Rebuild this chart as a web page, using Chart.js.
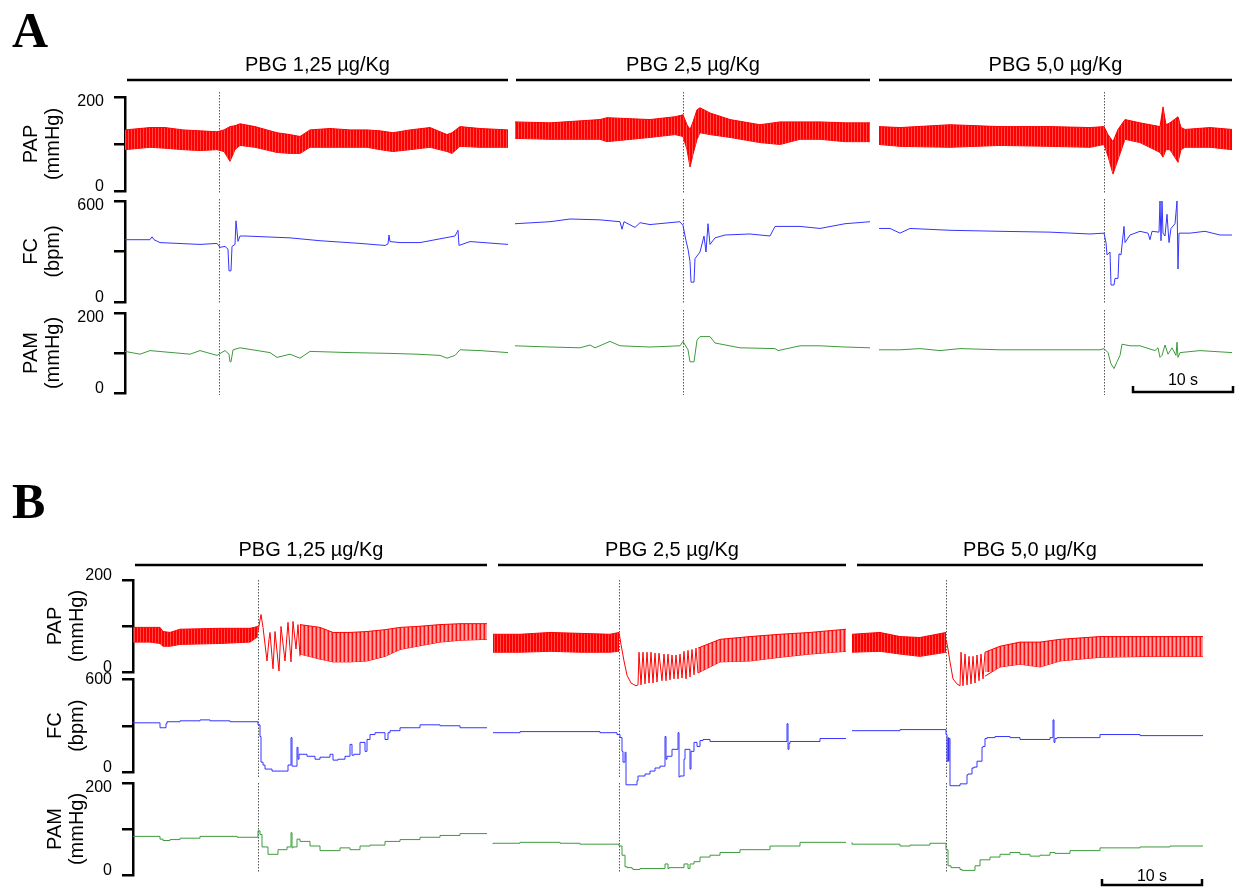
<!DOCTYPE html>
<html>
<head>
<meta charset="utf-8">
<script src="https://cdn.jsdelivr.net/npm/chart.js@4.4.0/dist/chart.umd.min.js"></script>
<style>
  body { margin: 0; background: #fff; width: 1239px; height: 894px; position: relative; overflow: hidden; }
  canvas { position: absolute; left: 0; }
  .letter { position: absolute; left: 12px; font: bold 50px "Liberation Serif", "Times New Roman", serif; line-height: 50px; color: #000; }
</style>
</head>
<body>
<div class="letter" style="top:5px">A</div>
<div class="letter" style="top:476px">B</div>
<canvas id="aPap"></canvas>
<canvas id="aFc"></canvas>
<canvas id="aPam"></canvas>
<canvas id="bPap"></canvas>
<canvas id="bFc"></canvas>
<canvas id="bPam"></canvas>
<script>
// doses and event times (s)
const doses = ['PBG 1,25 µg/Kg', 'PBG 2,5 µg/Kg', 'PBG 5,0 µg/Kg'];
const aInject = [9.4, 55.8, 97.9];
const bInject = [12.5, 48.6, 81.3];
const aSpans = [[0.2, 38.3], [39.1, 74.5], [75.4, 110.7]];
const bSpans = [[0.2, 35.4], [36.5, 71.3], [72.4, 107]];

// ---- panel A, column 1 ----
const a1PapT = [0,1.5,2.5,4,5.8,7.5,9.2,9.9,10.5,11,11.5,13,15.2,16.5,17.5,18.5,20.5,22.5,24.2,25.5,26.8,28.5,30.5,32.2,32.7,33.5,35.5,38.3];
const a1PapHi = [130,133,135,135,130,128,126,130,137,139,143,137,124,120,116,130,133,130,130,128,124,130,135,120,124,137,133,130];
const a1PapLo = [88,91,93,91,88,86,88,84,63,88,97,93,82,80,80,93,93,93,93,88,84,88,93,84,80,95,93,93];
const a1FcT = [0,2.5,2.7,2.9,3.5,7.5,9.2,9.5,10,10.3,10.4,10.6,10.7,11,11.1,11.3,11.5,12,16.5,19.5,23.5,26,26.3,26.4,26.5,27.5,29.5,33,33.3,33.4,34.5,38.3];
const a1Fc = [370,370,387,370,353,342,348,325,330,314,185,185,330,342,482,360,392,392,381,364,348,336,345,398,359,353,353,392,426,336,359,342];
const a1PamT = [0,1.5,2.5,6.5,7.5,9.2,10,10.4,10.5,10.6,10.8,11.5,14.5,15.2,16.5,17.5,18.5,22.5,26.5,29.2,31.5,32.2,33,33.5,35.5,38.3];
const a1Pam = [104,97,106,97,106,94,106,97,78,78,108,113,101,89,97,87,104,101,99,97,94,87,94,108,106,101];

// ---- panel A, column 2 ----
const a2PapT = [39,42.5,47.5,48.2,52.5,55,55.8,56.2,56.5,56.8,57.2,57.5,58.5,60.5,63.5,65.5,67.5,69.5,72,74.5];
const a2PapHi = [147,145,152,156,152,158,162,141,131,147,173,177,166,152,141,147,147,147,145,145];
const a2PapLo = [112,110,110,105,114,120,116,88,51,78,110,124,120,114,103,99,110,110,105,105];
const a2FcT = [39,42.5,44.5,47.5,49.5,49.7,49.9,51,51.5,52.5,55.5,55.8,56.1,56.3,56.5,56.6,56.9,57,57.5,57.9,58.1,58.3,58.5,59,60,62.5,64.5,65,67.5,69.5,72,74.5];
const a2Fc = [465,477,493,488,477,432,477,443,471,460,477,454,364,314,241,118,118,258,297,392,297,465,342,381,398,404,392,449,449,437,465,477];
const a2PamT = [39,42.5,45.5,46.5,47,48.5,49.5,52.5,55.5,55.8,56.3,56.5,56.9,57.2,57.5,58.5,59,61.5,65,65.3,67.5,69.5,72,74.5];
const a2Pam = [118,115,113,120,113,129,118,115,118,129,108,78,78,132,141,141,125,113,111,106,118,118,115,113];

// ---- panel A, column 3 ----
const a3PapT = [75.4,77.5,82.5,87.5,92.5,96.5,97.9,98.3,98.8,99.3,100,101.5,103.5,103.8,104.1,104.5,105.3,105.6,106,108.5,110.7];
const a3PapHi = [137,135,141,137,137,135,137,120,105,131,152,145,137,179,141,145,158,135,131,135,131];
const a3PapLo = [99,95,93,97,95,93,99,74,36,67,110,103,82,72,88,88,61,88,93,93,88];
const a3FcT = [75.4,76.5,77.5,78.5,82.5,87.5,92.5,96.5,97.9,98.1,98.2,98.5,98.6,98.9,99,99.3,99.4,99.6,99.9,100,100.5,101.5,102.3,102.5,102.7,103.4,103.5,103.6,103.7,103.8,104,104.2,104.4,104.6,105,105.2,105.3,105.4,106.5,108,109.5,110.7];
const a3Fc = [437,437,409,437,426,420,415,404,409,353,280,297,101,101,140,140,286,280,449,353,398,420,409,370,420,415,600,364,600,409,392,521,353,437,465,600,196,409,409,420,398,398];
const a3PamT = [75.4,77.5,79.5,81.5,83.5,87.5,92.5,97.5,97.9,98.3,98.6,98.9,99.2,99.5,99.7,100.5,101.5,103,103.3,103.5,103.7,104,104.3,104.7,105.1,105.2,105.3,105.5,107.5,110.7];
const a3Pam = [108,108,111,106,111,108,108,108,111,101,73,61,78,94,122,118,118,106,113,89,94,120,97,113,94,127,89,101,106,101];

// ---- panel B, column 1 ----
const b1PapT = [0,1.7,2.7,3,3.7,4.7,8.7,11.7,12.5];
const b1PapHi = [97,97,97,88,86,93,95,95,99];
const b1PapLo = [65,65,62,56,56,60,62,65,77];
const b1PulseT = [12.5,12.8,13,13.4,13.6,13.7,14,14.2,14.6,14.8,15.2,15.5,15.8,16,16.3,16.5,16.7];
const b1Pulse = [88,125,97,24,71,86,7,88,2,99,24,108,22,110,50,103,34];
const b1PapT2 = [16.7,18.7,20,21.7,23.4,25.2,26.7,28.4,30.7,32.7,35.4];
const b1PapHi2 = [103,97,86,86,88,92,97,99,103,105,105];
const b1PapLo2 = [39,28,22,22,24,34,49,56,65,69,71];
const b1FcT = [0,2.7,3,3.3,3.4,4.7,6.7,7.7,9.7,12.5,12.7,12.8,13,13.2,13.9,14.7,15.5,15.6,15.8,15.9,16,16.4,16.5,16.6,17.4,18.2,18.7,19.7,20,20.5,21.2,21.7,21.9,22.1,22.7,23.2,23.4,23.7,24.2,25.2,25.5,25.7,26.7,27.7,28.7,30.7,32.7,35.4];
const b1Fc = [326,319,287,287,313,326,332,338,332,326,306,230,64,45,19,6,6,45,45,223,38,38,160,83,115,102,83,96,115,77,83,102,179,109,115,192,134,211,243,255,211,255,268,287,287,306,300,287];
const b1PamT = [0,2.7,3,3.7,4.7,6.7,10.4,12.5,12.7,12.9,13.1,13.5,13.7,14.5,14.7,15.4,15.7,15.8,15.9,16,16.4,16.5,16.7,17.7,18.7,19.7,20.7,21.7,22.7,23.7,25.2,26.7,28.7,30.7,32.7,35.4];
const b1Pam = [84,84,78,75,77,80,84,82,96,88,61,61,45,45,55,55,61,61,92,59,61,78,78,73,63,53,53,59,55,63,65,73,77,82,86,90];

// ---- panel B, column 2 ----
const b2PapT = [36,38.7,41.7,44.7,47.7,48.6];
const b2PapHi = [82,82,86,84,82,86];
const b2PapLo = [43,43,45,43,43,45];
const b2PulseT = [48.6,48.8,49.1,49.4,49.8,50.3,50.5,50.6,50.8,51,51.2,51.4,51.6,51.8,52,52.2,52.4,52.6,52.9,53.1,53.3,53.5,53.7,53.9,54.1,54.3,54.5,54.7,54.9,55.1,55.3,55.5,55.7,55.9,56.1,56.3,56.5];
const b2Pulse = [86,60,24,-7,-24,-30,-28,43,-28,43,-26,43,-24,43,-24,41,-22,41,-19,39,-19,39,-17,37,-15,37,-15,39,-13,45,-15,47,-11,49,-6,52,-2];
const b2PapT2 = [56.5,58.7,61.7,64.7,67.7,71.3];
const b2PapHi2 = [52,71,77,82,86,93];
const b2PapLo2 = [-2,22,24,32,39,45];
const b2FcT = [36,38.7,42.7,46.7,48.4,48.7,48.9,49,49.1,49.2,49.3,49.4,50.4,50.5,51.2,51.7,52.2,52.7,53.2,53.3,53.4,53.9,54.2,54.5,54.6,54.7,55.1,55.2,55.7,55.8,56.1,56.4,56.7,57,57.7,58.7,61.7,65.4,65.5,65.6,65.7,66.7,68.7,71.3];
const b2Fc = [255,255,262,262,255,243,223,134,64,64,128,-83,-83,-57,-26,-13,6,26,38,230,83,102,147,147,255,-32,-26,83,147,19,134,192,166,204,211,198,198,198,313,147,185,198,198,217];
const b2PamT = [36,38.7,42.7,44.7,47.7,48.6,48.9,49.2,49.4,49.9,50,50.7,51.7,53.2,53.3,53.5,53.6,54.2,55.1,55.2,55.5,55.7,56.1,56.7,57.7,58.7,60.7,63.7,66.7,71.3];
const b2Pam = [67,69,71,69,67,67,63,43,18,16,14,12,14,14,24,24,14,16,16,24,24,14,24,29,39,43,49,55,63,71];

// ---- panel B, column 3 ----
const b3PapT = [71.9,74.7,76.7,78.7,81.3];
const b3PapHi = [82,86,77,75,86];
const b3PapLo = [43,45,39,34,43];
const b3PulseT = [81.3,81.5,81.7,82,82.4,82.7,82.8,83,83.2,83.4,83.6,83.8,84,84.2,84.4,84.6,84.8,85,85.2];
const b3Pulse = [71,50,22,-15,-26,-30,43,-30,39,-28,34,-26,34,-24,37,-19,39,-15,43];
const b3PapT2 = [85.2,86.7,88.7,90.7,92.7,96.7,101.7,107];
const b3PapHi2 = [43,56,65,65,71,77,77,77];
const b3PapLo2 = [-9,11,17,11,24,32,34,34];
const b3FcT = [71.9,74.7,76.7,78.7,81.3,81.4,81.5,81.55,81.6,81.7,81.8,82.7,82.8,83.4,83.5,83.9,84.1,84.4,84.7,84.9,85,85.2,85.4,86.2,87.7,88.7,90.7,91.7,92,92.1,92.2,92.4,96.7,100.7,103.7,107];
const b3Fc = [268,268,268,275,275,243,70,223,70,217,-89,-89,-77,-77,-19,-13,26,32,70,70,160,166,217,223,230,223,211,211,223,338,192,217,223,243,236,236];
const b3PamT = [71.9,74.7,76.7,77.7,79.7,81.3,81.5,81.8,82.7,82.9,83.7,84.2,84.7,85.7,86.7,87.7,88.7,89.7,90.7,91.7,92.2,93.7,96.7,100.7,103.7,107];
const b3Pam = [71,67,67,63,65,69,55,20,16,12,10,10,20,33,39,45,49,45,41,43,49,47,53,59,61,63];

const papRed = '#ff0000';
const fcBlue = '#3434ff';
const pamGreen = '#3d9a3d';
const fontFamily = '"Liberation Sans", Arial, Helvetica, sans-serif';

// vertical stripes, so the pressure band reads like packed pulse waves
function stripes(cols) {
  const c = document.createElement('canvas');
  c.width = cols.length;
  c.height = 1;
  const g = c.getContext('2d');
  cols.forEach((col, i) => { g.fillStyle = col; g.fillRect(i, 0, 1, 1); });
  return g.createPattern(c, 'repeat');
}

function pts(t, v) {
  return t.map((x, i) => ({ x: x, y: v[i] }));
}

function trace(t, v, color, extra) {
  return Object.assign({
    data: pts(t, v), borderColor: color, borderWidth: 1, pointRadius: 0,
    fill: false, clip: false, tension: 0
  }, extra || {});
}

// systolic / diastolic envelope filled in between
function band(t, hi, lo, fillStyle) {
  return [
    trace(t, hi, papRed, { fill: '+1', backgroundColor: fillStyle }),
    trace(t, lo, papRed)
  ];
}

// dotted injection lines, dose headers and the 10 s bar
function marks(m) {
  return {
    id: 'marks',
    beforeDatasetsDraw(chart) {
      const { ctx, chartArea: a, scales: { x } } = chart;
      ctx.save();
      ctx.strokeStyle = '#555';
      ctx.lineWidth = 1;
      ctx.setLineDash([1.5, 1.5]);
      m.inject.forEach(t => {
        const px = Math.round(x.getPixelForValue(t)) + 0.5;
        ctx.beginPath();
        ctx.moveTo(px, a.top - m.ext[0]);
        ctx.lineTo(px, a.bottom + m.ext[1]);
        ctx.stroke();
      });
      ctx.restore();
    },
    afterDraw(chart) {
      const { ctx, chartArea: a, scales: { x } } = chart;
      ctx.save();
      ctx.strokeStyle = '#000';
      ctx.fillStyle = '#000';
      ctx.lineWidth = 2.5;
      ctx.textAlign = 'center';
      ctx.textBaseline = 'middle';
      if (m.spans) {
        ctx.font = '20px ' + fontFamily;
        m.spans.forEach((s, i) => {
          const x0 = x.getPixelForValue(s[0]);
          const x1 = x.getPixelForValue(s[1]);
          const y = a.top - m.barGap;
          ctx.beginPath();
          ctx.moveTo(x0, y);
          ctx.lineTo(x1, y);
          ctx.stroke();
          ctx.fillText(doses[i], (x0 + x1) / 2, y - 15);
        });
      }
      if (m.scaleBar) {
        const sb = m.scaleBar;
        const x0 = x.getPixelForValue(sb.t0);
        const x1 = x.getPixelForValue(sb.t1);
        const y = a.bottom + sb.dy;
        ctx.beginPath();
        ctx.moveTo(x0, y - 6);
        ctx.lineTo(x0, y);
        ctx.lineTo(x1, y);
        ctx.lineTo(x1, y - 6);
        ctx.stroke();
        ctx.font = '16px ' + fontFamily;
        ctx.fillText('10 s', (x0 + x1) / 2, y - sb.gap);
      }
      ctx.restore();
    }
  };
}

function makeRow(panel, row) {
  const canvas = document.getElementById(row.id);
  canvas.width = 1239;
  canvas.height = row.padTop + (row.bottom - row.top) + row.padBottom;
  canvas.style.top = (row.top - row.padTop) + 'px';
  const max = row.range[1];
  new Chart(canvas, {
    type: 'line',
    data: { datasets: row.datasets },
    options: {
      responsive: false,
      animation: false,
      events: [],
      layout: { padding: { left: 0, right: 1239 - panel.right, top: row.padTop, bottom: row.padBottom } },
      plugins: { legend: { display: false }, tooltip: { enabled: false } },
      scales: {
        x: { type: 'linear', display: false, min: 0, max: panel.xMax },
        y: {
          min: row.range[0],
          max: max,
          afterFit: s => { s.width = panel.axisX; },
          ticks: {
            stepSize: max / 2,
            color: '#000',
            padding: 10,
            font: { family: fontFamily, size: 16, lineHeight: '9px' },
            callback: v => {
              if (v === max) {
                if (row.topLab === 'down') return ['', String(v)];
                if (row.topLab === 'up') return [String(v), ''];
                return String(v);
              }
              if (v === 0) return ['0', ''];
              return '';
            }
          },
          grid: { drawOnChartArea: false, drawTicks: true, tickLength: 11, color: '#000', lineWidth: 2.5 },
          border: { display: true, color: '#000', width: 2.5 },
          title: {
            display: true, text: row.label, color: '#000',
            font: { family: fontFamily, size: 20, lineHeight: 1.1 },
            padding: { top: panel.titlePad, bottom: 0 }
          }
        }
      }
    },
    plugins: [marks({ inject: panel.inject, ext: row.ext, spans: row.spans, barGap: panel.barGap, scaleBar: row.scaleBar })]
  });
}

const dense = stripes(['#ff0000', '#ff0000', '#ff4a4a']);
const loose = stripes(['#ff1010', '#ff8a8a', '#ffa4a4', '#ff5c5c']);
const stepB = { stepped: 'after' };

const panelA = { axisX: 125, right: 1235, xMax: 111, titlePad: 20, barGap: 17, inject: aInject };
const panelB = { axisX: 133, right: 1205, xMax: 107.2, titlePad: 44, barGap: 15, inject: bInject };

makeRow(panelA, {
  id: 'aPap', top: 97, bottom: 192, range: [0, 200], label: ['PAP', '(mmHg)'], ext: [5, 2], topLab: 'down',
  padTop: 50, padBottom: 18, spans: aSpans,
  datasets: [
    ...band(a1PapT, a1PapHi, a1PapLo, dense),
    ...band(a2PapT, a2PapHi, a2PapLo, dense),
    ...band(a3PapT, a3PapHi, a3PapLo, dense)
  ]
});
makeRow(panelA, {
  id: 'aFc', top: 196, bottom: 303, range: [0, 600], label: ['FC', '(bpm)'], ext: [2, 2], topLab: 'down',
  padTop: 14, padBottom: 18,
  datasets: [trace(a1FcT, a1Fc, fcBlue), trace(a2FcT, a2Fc, fcBlue), trace(a3FcT, a3Fc, fcBlue)]
});
makeRow(panelA, {
  id: 'aPam', top: 308, bottom: 393, range: [0, 200], label: ['PAM', '(mmHg)'], ext: [3, 2], topLab: 'down',
  padTop: 14, padBottom: 20, scaleBar: { t0: 100.8, t1: 110.8, dy: -1, gap: 11 },
  datasets: [trace(a1PamT, a1Pam, pamGreen), trace(a2PamT, a2Pam, pamGreen), trace(a3PamT, a3Pam, pamGreen)]
});

makeRow(panelB, {
  id: 'bPap', top: 580, bottom: 673, range: [0, 200], label: ['PAP', '(mmHg)'], ext: [0, 6], topLab: 'up',
  padTop: 50, padBottom: 18, spans: bSpans,
  datasets: [
    ...band(b1PapT, b1PapHi, b1PapLo, dense),
    trace(b1PulseT, b1Pulse, papRed),
    ...band(b1PapT2, b1PapHi2, b1PapLo2, loose),
    ...band(b2PapT, b2PapHi, b2PapLo, dense),
    trace(b2PulseT, b2Pulse, papRed),
    ...band(b2PapT2, b2PapHi2, b2PapLo2, loose),
    ...band(b3PapT, b3PapHi, b3PapLo, dense),
    trace(b3PulseT, b3Pulse, papRed),
    ...band(b3PapT2, b3PapHi2, b3PapLo2, loose)
  ]
});
makeRow(panelB, {
  id: 'bFc', top: 679, bottom: 773, range: [0, 600], label: ['FC', '(bpm)'], ext: [0, 5], topLab: 'none',
  padTop: 14, padBottom: 18,
  datasets: [trace(b1FcT, b1Fc, fcBlue, stepB), trace(b2FcT, b2Fc, fcBlue, stepB), trace(b3FcT, b3Fc, fcBlue, stepB)]
});
makeRow(panelB, {
  id: 'bPam', top: 778, bottom: 880, range: [0, 200], label: ['PAM', '(mmHg)'], ext: [0, -2], topLab: 'down',
  padTop: 14, padBottom: 14, scaleBar: { t0: 96.9, t1: 106.9, dy: 10, gap: 8 },
  datasets: [trace(b1PamT, b1Pam, pamGreen, stepB), trace(b2PamT, b2Pam, pamGreen, stepB), trace(b3PamT, b3Pam, pamGreen, stepB)]
});
</script>
</body>
</html>
